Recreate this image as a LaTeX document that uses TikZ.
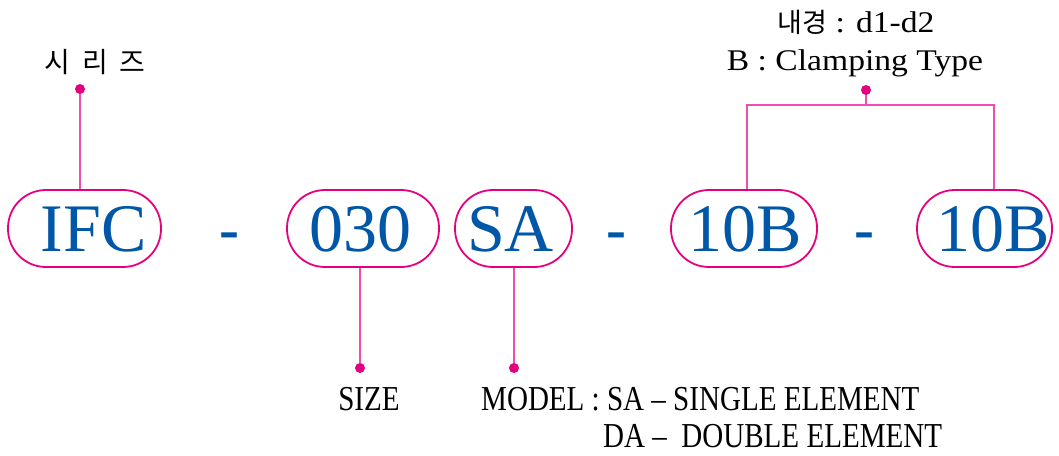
\documentclass[tikz,border=0pt]{standalone}
\usepackage{fontspec}
\setmainfont{Liberation Serif}
\newfontfamily\kr{Noto Sans CJK KR}
\newfontfamily\cond[FakeStretch=0.83]{Liberation Serif}
\newfontfamily\wide[FakeStretch=1.12]{Liberation Serif}
\definecolor{pillblue}{HTML}{0057A8}
\definecolor{mag}{HTML}{E4007F}
\definecolor{pinkline}{HTML}{F04DB0}
\begin{document}
\begin{tikzpicture}[x=1pt,y=-1pt,
  pill/.style={draw=mag, line width=1.8pt, rounded corners=38pt, minimum height=77pt, inner sep=0pt},
  ptext/.style={text=pillblue, font=\fontsize{68}{70}\selectfont, inner sep=0pt},
  dashmark/.style={text=pillblue, font=\bfseries\fontsize{60}{60}\selectfont, inner sep=0pt},
  dot/.style={circle, fill=mag, minimum size=10pt, inner sep=0pt},
  conn/.style={draw=pinkline, line width=1.3pt},
  lbl/.style={inner sep=0pt, font=\wide\fontsize{30}{32}\selectfont},
  clbl/.style={inner sep=0pt, font=\cond\fontsize{35}{36}\selectfont}]
\useasboundingbox (0,0) rectangle (1059,455);
% pills
\node[pill, minimum width=153pt] (ifc) at (84.5,228.5) {};
\node[pill, minimum width=152pt] (size) at (363,228.5) {};
\node[pill, minimum width=117pt] (model) at (513.5,228.5) {};
\node[pill, minimum width=146pt] (da) at (744,228.5) {};
\node[pill, minimum width=135pt] (db) at (984.5,228.5) {};
\node[ptext] (ifct) at ([xshift=9pt,yshift=-1pt]ifc.center) {IFC};
\node[ptext] (sizet) at ([xshift=-3pt,yshift=-1pt]size.center) {030};
\node[ptext] (modelt) at ([xshift=-3pt,yshift=-1pt]model.center) {SA};
\node[ptext] (dat) at ([xshift=1pt,yshift=-1pt]da.center) {10B};
\node[ptext] (dbt) at ([xshift=9pt,yshift=-1pt]db.center) {10B};
% dashes
\node[dashmark] (m1) at (229,241) {-};
\node[dashmark] (m2) at (616,241) {-};
\node[dashmark] (m3) at (864,241) {-};
% dots
\node[dot] (p1) at (80,89) {};
\node[dot] (p2) at (360,368) {};
\node[dot] (p3) at (514,368) {};
\node[dot] (p4) at (866,90) {};
\coordinate (c1) at (747,105);
\coordinate (c2) at (994,105);
\coordinate (c0) at (866,105);
% connectors
\draw[conn] (p1) -- (p1 |- ifc.north);
\draw[conn] (p2) -- (p2 |- size.south);
\draw[conn] (p3) -- (p3 |- model.south);
\draw[conn] (p4) -- (c0);
\draw[conn] (c1 |- da.north) -- (c1) -- (c2) -- (c2 |- db.north);
% labels
\node[inner sep=0pt, font=\kr\fontsize{28}{30}\selectfont] (t1) at (95,62) {시\hspace{12pt}리\hspace{12pt}즈};
\node[lbl, anchor=base] (t2) at (856,32) {{\kr\fontsize{27}{30}\selectfont 내경} : d1-d2};
\node[lbl, anchor=base] (t3) at (855,70) {B :\ Clamping Type};
\node[clbl, anchor=base] (t4) at (369,410) {SIZE};
\node[clbl, anchor=base west] (t5) at (481,410) {MODEL : SA – SINGLE ELEMENT};
\node[clbl, anchor=base west] (t6) at (603,447) {DA –\ \ DOUBLE ELEMENT};
\end{tikzpicture}
\end{document}
